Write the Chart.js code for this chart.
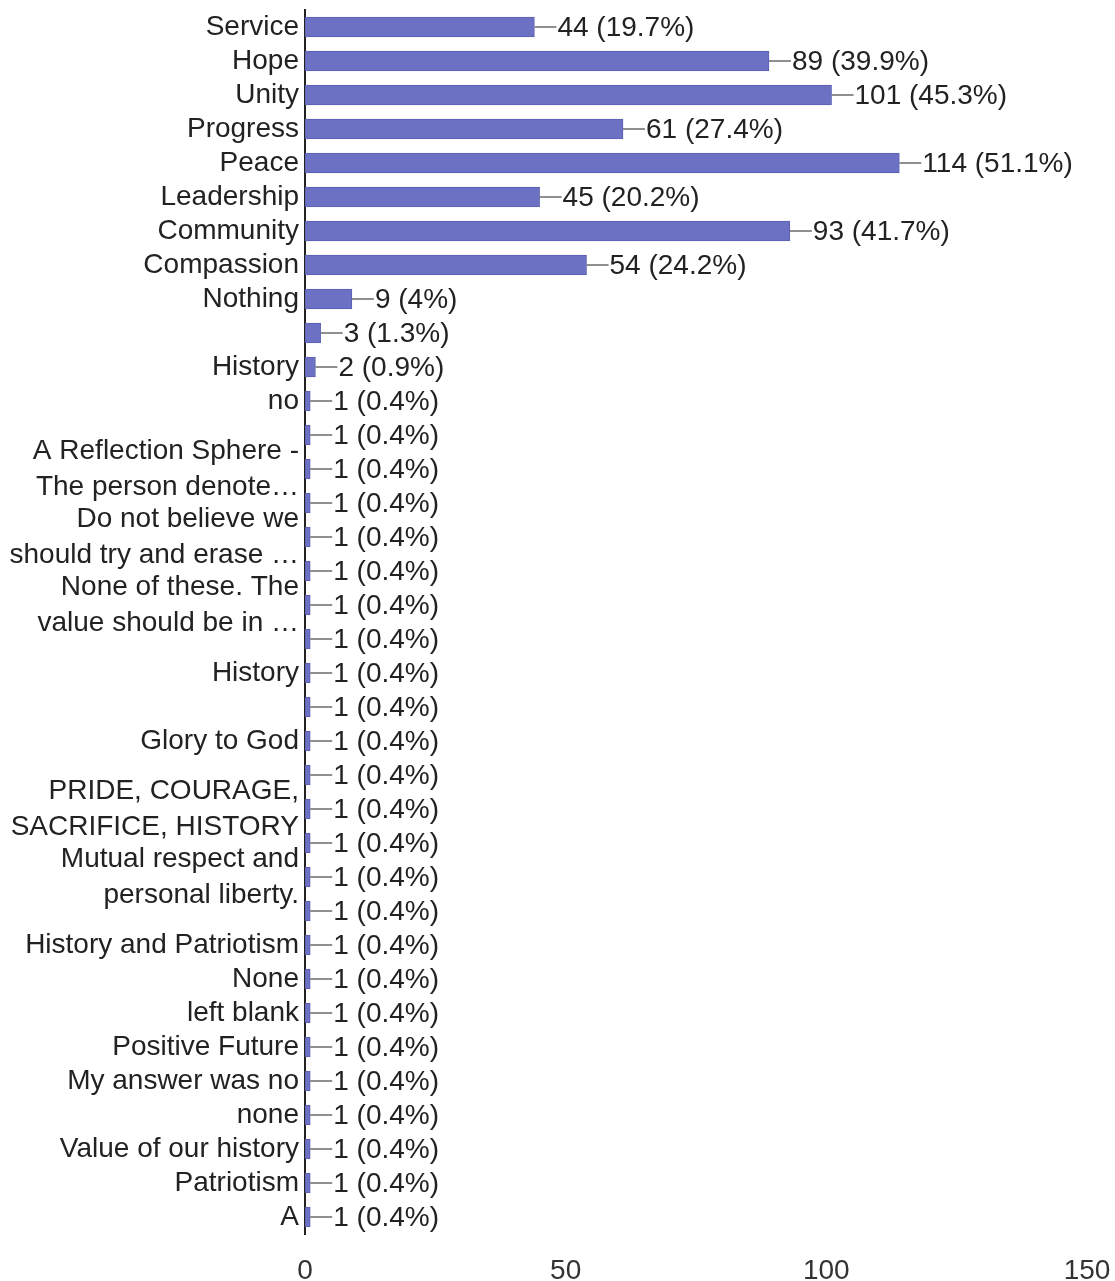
<!DOCTYPE html>
<html>
<head>
  <meta charset="UTF-8">
  <title>Responses</title>
  <script src="https://cdn.jsdelivr.net/npm/chart.js"></script>
  <style>
    html, body { margin: 0; padding: 0; background: #fff; }
    canvas { display: block; }
  </style>
</head>
<body>

  <canvas id="answersChart" width="1115" height="1281"></canvas>

  <script>
    // answers as shown on the axis ('' = label hidden in the original chart)
    const categories = [
      'Service', 'Hope', 'Unity', 'Progress', 'Peace', 'Leadership', 'Community', 'Compassion',
      'Nothing', '', 'History', 'no', '',
      ['A Reflection Sphere -', 'The person denote…'], '',
      ['Do not believe we', 'should try and erase …'], '',
      ['None of these. The', 'value should be in …'], '',
      'History', '', 'Glory to God', '',
      ['PRIDE, COURAGE,', 'SACRIFICE, HISTORY'], '',
      ['Mutual respect and', 'personal liberty.'], '',
      'History and Patriotism', 'None', 'left blank', 'Positive Future', 'My answer was no',
      'none', 'Value of our history', 'Patriotism', 'A'
    ];
    const counts = [
      44, 89, 101, 61, 114, 45, 93, 54,
      9, 3, 2, 1, 1,
      1, 1, 1, 1, 1, 1,
      1, 1, 1, 1, 1, 1, 1, 1,
      1, 1, 1, 1, 1, 1, 1, 1, 1
    ];
    const percents = [
      '19.7%', '39.9%', '45.3%', '27.4%', '51.1%', '20.2%', '41.7%', '24.2%',
      '4%', '1.3%', '0.9%', '0.4%', '0.4%',
      '0.4%', '0.4%', '0.4%', '0.4%', '0.4%', '0.4%',
      '0.4%', '0.4%', '0.4%', '0.4%', '0.4%', '0.4%', '0.4%', '0.4%',
      '0.4%', '0.4%', '0.4%', '0.4%', '0.4%', '0.4%', '0.4%', '0.4%', '0.4%'
    ];
    const xTicks = [0, 50, 100, 150];

    const FONT = '"Liberation Sans", Arial, sans-serif';

    // leader line + "n (p%)" at the end of each bar
    const valueLabels = {
      id: 'valueLabels',
      afterDatasetsDraw(chart) {
        const ctx = chart.ctx;
        const xScale = chart.scales.x;
        const meta = chart.getDatasetMeta(0);
        ctx.save();
        ctx.font = '28px ' + FONT;
        ctx.textBaseline = 'middle';
        ctx.textAlign = 'left';
        meta.data.forEach((bar, i) => {
          const end = xScale.getPixelForValue(counts[i]);
          const y = bar.y;
          ctx.strokeStyle = '#6a6a6a';
          ctx.lineWidth = 1.5;
          ctx.beginPath();
          ctx.moveTo(end, y);
          ctx.lineTo(end + 22, y);
          ctx.stroke();
          ctx.fillStyle = '#222';
          ctx.fillText(counts[i] + ' (' + percents[i] + ')', end + 23, y + 1);
        });
        ctx.restore();
      }
    };

    const chartCtx = document.getElementById('answersChart').getContext('2d');

    new Chart(chartCtx, {
      type: 'bar',
      data: {
        labels: categories,
        datasets: [{
          data: counts,
          backgroundColor: '#6d71c4',
          borderColor: '#5b5fb2',
          borderWidth: 1,
          borderSkipped: false,
          barThickness: 20
        }]
      },
      options: {
        indexAxis: 'y',
        responsive: false,
        animation: false,
        layout: { padding: { top: 10, right: 28, left: 0, bottom: 0 } },
        plugins: {
          legend: { display: false },
          tooltip: { enabled: false }
        },
        scales: {
          x: {
            min: 0,
            max: 150,
            afterBuildTicks: (scale) => { scale.ticks = xTicks.map(v => ({ value: v })); },
            afterFit: (scale) => {
              scale.height = 47;
              scale.paddingLeft = 0;
              scale.paddingRight = 0;
            },
            grid: { display: false, drawTicks: false },
            border: { display: false },
            ticks: {
              padding: 20,
              color: '#333',
              font: { family: FONT, size: 28 }
            }
          },
          y: {
            afterFit: (scale) => {
              scale.width = 305;
              scale.paddingTop = 0;
              scale.paddingBottom = 0;
            },
            grid: { display: false, drawTicks: false },
            border: { display: true, color: '#222', width: 2 },
            ticks: {
              autoSkip: false,
              padding: 6,
              color: '#222',
              font: { family: FONT, size: 28, lineHeight: 1.3 }
            }
          }
        }
      },
      plugins: [valueLabels]
    });
  </script>

</body>
</html>
